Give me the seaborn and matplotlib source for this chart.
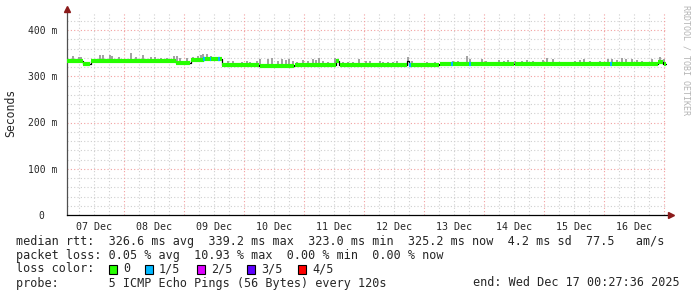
import numpy as np
import pandas as pd
import matplotlib
matplotlib.use("Agg")
import matplotlib.pyplot as plt
from matplotlib.patches import Rectangle
import seaborn as sns

# ---------------- data (hours since 07 Dec 00:00, values in ms) ----------------
med_t = [0.96, 7.5, 10.6, 44.7, 50.6, 55.9, 63.1, 78.0, 92.0, 108.7, 110.0,
         137.2, 137.7, 150.0, 180.0, 237.5, 239.6, 240.96]
med_v = [334.0, 326.0, 334.0, 328.0, 335.0, 337.0, 324.0, 323.0, 324.0, 333.5, 324.0,
         332.0, 324.0, 325.5, 326.5, 331.0, 326.0, 326.0]

smoke_t = [1.2, 3.6, 5.9, 6.8, 14.3, 15.6, 18.3, 19.2, 21.9, 26.8, 28.6, 31.6, 34.8,
           36.2, 38.6, 41.2, 43.9, 45.2, 46.3, 49.0, 51.6, 53.5, 54.6, 55.6, 56.9, 58.6,
           65.6, 67.6, 71.0, 73.0, 74.3, 77.0, 78.3, 81.6, 83.0, 85.6, 87.0, 88.7, 90.0,
           91.4, 93.2, 95.6, 97.6, 99.4, 100.7, 102.0, 103.6, 105.6, 108.3, 111.6, 113.6,
           115.6, 117.9, 120.7, 122.3, 126.3, 127.6, 129.6, 131.6, 133.2, 137.4, 139.0,
           145.0, 148.3, 155.6, 157.6, 159.0, 161.2, 162.3, 164.3, 167.0, 168.7, 171.6,
           174.0, 176.0, 177.6, 180.3, 183.0, 185.2, 187.6, 191.6, 193.2, 195.6, 204.3,
           206.3, 207.9, 210.3, 214.3, 217.6, 219.0, 221.0, 223.0, 224.7, 227.0, 229.0,
           231.0, 235.0, 238.3, 239.9]
smoke_top = [342.3, 343.8, 341.6, 341.6, 345.9, 345.9, 345.9, 344.5, 342.3, 349.5, 341.6,
             345.9, 341.6, 341.6, 340.2, 340.2, 343.8, 343.8, 338.8, 340.2, 342.3, 343.1,
             345.9, 347.4, 347.4, 343.1,
             333.7, 333.0, 331.5, 333.0, 331.5, 333.7, 336.6, 337.3, 338.7, 333.0, 336.6,
             335.1, 337.3, 333.7, 331.5, 335.1, 333.0, 337.3, 335.1, 338.7, 333.7, 331.5,
             340.2, 330.0, 331.5, 330.0, 337.3,
             333.7, 333.0, 333.0, 331.5, 330.0, 331.5, 333.0, 341.6, 333.0, 330.0, 331.5,
             333.0, 333.0, 331.5, 343.8, 337.3, 331.5, 337.3, 333.0, 331.5, 335.1, 333.7,
             335.1,
             333.7, 333.0, 335.8, 333.7, 335.1, 340.2, 337.3, 333.7, 335.1, 337.3, 333.0,
             333.0, 337.3, 337.3, 335.1, 340.2, 337.3, 337.3, 335.1, 333.7, 337.3, 341.6,
             337.3]

loss_t = [55.9, 58.5, 61.8, 138.3, 155.0, 162.3, 218.7]   # samples with 1/5 loss

day_ticks = [12, 36, 60, 84, 108, 132, 156, 180, 204, 228]
day_labels = ["07 Dec", "08 Dec", "09 Dec", "10 Dec", "11 Dec",
              "12 Dec", "13 Dec", "14 Dec", "15 Dec", "16 Dec"]
y_ticks = [0, 100, 200, 300, 400]
y_labels = ["0  ", "100 m", "200 m", "300 m", "400 m"]

loss_names = ["0", "1/5", "2/5", "3/5", "4/5"]
loss_colors = ["#26ff00", "#00b8ff", "#dd00ff", "#5e00ff", "#ff0000"]

stats_line1 = "median rtt:  326.6 ms avg  339.2 ms max  323.0 ms min  325.2 ms now  4.2 ms sd  77.5   am/s"
stats_line2 = "packet loss: 0.05 % avg  10.93 % max  0.00 % min  0.00 % now"
probe_text = "probe:       5 ICMP Echo Pings (56 Bytes) every 120s"
end_text = "end: Wed Dec 17 00:27:36 2025"

# ---------------- styling ----------------
sns.set_style("white")
plt.rcParams["font.family"] = ["DejaVu Sans Mono", "DejaVu Sans"]

W, H = 697, 297
fig = plt.figure(figsize=(W / 100, H / 100), dpi=100)
fig.patch.set_facecolor("white")
x0, x1 = 66.7, 666.7
y_bot, y_top = 215.0, 11.5
ax = fig.add_axes([x0 / W, (H - y_bot) / H, (x1 - x0) / W, (y_bot - y_top) / H])
ax.set_facecolor("white")
ax.set_xlim(0.96, 240.96)
ax.set_ylim(0, 440)

# grid
minor_col = "#cfcfcf"
major_col = "#f2a0a0"
for yv in range(20, 440, 20):
    if yv % 100 != 0:
        ax.axhline(yv, color=minor_col, lw=0.8, ls=(0, (1, 2)), zorder=0)
for xv in range(6, 241, 6):
    if xv % 24 != 0:
        ax.axvline(xv, color=minor_col, lw=0.8, ls=(0, (1, 2)), zorder=0)
for yv in [100, 200, 300, 400]:
    ax.axhline(yv, color=major_col, lw=0.8, ls=(0, (1, 2)), zorder=0.5)
for xv in range(24, 241, 24):
    ax.axvline(xv, color=major_col, lw=0.8, ls=(0, (1, 2)), zorder=0.5)

# smoke
mt = np.array(med_t)
mv = np.array(med_v)
def med_at(t):
    i = np.searchsorted(mt, t, side="right") - 1
    return mv[max(i, 0)]
smoke_base = [med_at(t) for t in smoke_t]
ax.vlines(smoke_t, smoke_base, smoke_top, color="#9a9a9a", lw=1.3, zorder=2)

# median line (black step) + green loss-colored line
df = pd.DataFrame({"t": med_t, "v": med_v})
sns.lineplot(data=df, x="t", y="v", drawstyle="steps-post", color="black",
             lw=0.9, ax=ax, zorder=3)
ax.hlines(mv[:-1], mt[:-1] + 0.15, mt[1:] - 0.15, color=loss_colors[0], lw=3.0, zorder=4)
ax.hlines([med_at(t) for t in loss_t], np.array(loss_t) - 0.3, np.array(loss_t) + 0.3,
          color=loss_colors[1], lw=3.0, zorder=5)

# axes
for s in ["top", "right"]:
    ax.spines[s].set_visible(False)
ax.spines["left"].set_color("#505050")
ax.spines["left"].set_linewidth(0.9)
ax.spines["bottom"].set_color("#000000")
ax.spines["bottom"].set_linewidth(0.9)
ax.set_xticks(day_ticks)
ax.set_xticklabels(day_labels, fontsize=7.2)
ax.tick_params(axis="x", length=0, pad=5)
ax.set_yticks(y_ticks)
ax.set_yticklabels(y_labels, fontsize=7.0)
ax.tick_params(axis="y", length=3, width=0.8, color="#505050", pad=4)
ax.set_xlabel("")
ax.set_ylabel("")
fig.text(11 / W, 1 - 113 / H, "Seconds", rotation=90, fontsize=8.3,
         ha="center", va="center")

# arrows
ax.plot([0], [1.0 + 2 / 203], marker="^", color="#8b1a1a", ms=4.5, transform=ax.transAxes,
        clip_on=False, zorder=6)
ax.plot([1.0 + 4 / 600], [0], marker=">", color="#8b1a1a", ms=4.5, transform=ax.transAxes,
        clip_on=False, zorder=6)

# watermark
fig.text(686 / W, 1 - 5 / H, "RRDTOOL / TOBI OETIKER", rotation=270, fontsize=6,
         color="#b4b4b4", ha="center", va="top")

# legend text
fs = 8.5
def ytext(y):
    return 1 - y / H
fig.text(16 / W, ytext(241), stats_line1, fontsize=fs, ha="left", va="center")
fig.text(16 / W, ytext(255), stats_line2, fontsize=fs, ha="left", va="center")
fig.text(16 / W, ytext(269), "loss color:", fontsize=fs, ha="left", va="center")
box_x = [109, 145, 197, 247, 298]
for bx, name, col in zip(box_x, loss_names, loss_colors):
    fig.patches.append(Rectangle((bx / W, (H - 273.5) / H), 7.5 / W, 8.5 / H,
                                 transform=fig.transFigure, facecolor=col,
                                 edgecolor="black", lw=0.8))
    fig.text((bx + 14) / W, ytext(269), name, fontsize=fs, ha="left", va="center")
fig.text(16 / W, ytext(283), probe_text, fontsize=fs, ha="left", va="center")
fig.text(680 / W, ytext(283), end_text, fontsize=fs, ha="right", va="center")

fig.savefig("out.png", dpi=100)
